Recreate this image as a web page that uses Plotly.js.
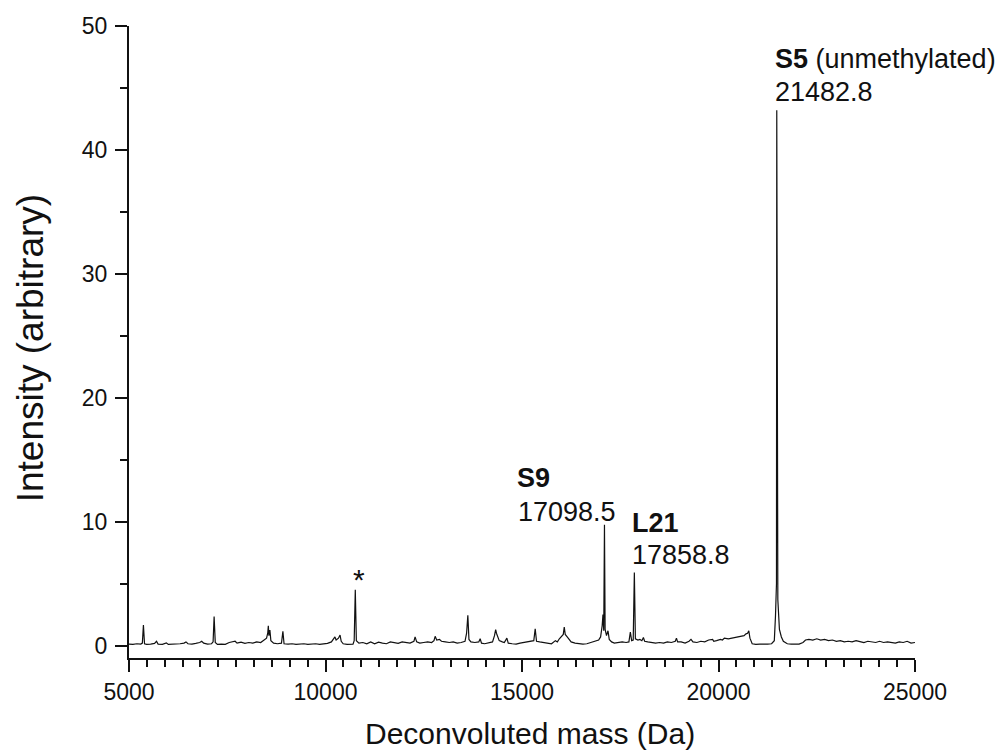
<!DOCTYPE html>
<html>
<head>
<meta charset="utf-8">
<script src="https://cdn.plot.ly/plotly-3.0.1.min.js"></script>
<style>html,body{margin:0;padding:0;background:#fff;}#chart{width:1003px;height:756px;}</style>
</head>
<body>
<div id="chart"></div>
<script>
// Deconvoluted mass (Da)
const mass = [
5000,5100,5200,5300,5340,5367,5395,5450,5550,5650,5700,5740,5850,5950,6000,6100,6200,6300,6400,6450,
6500,6600,6700,6800,6850,6900,7000,7100,7140,7166,7195,7250,7350,7450,7550,7650,7700,7750,7850,7950,
8050,8150,8250,8350,8420,8500,8530,8545,8560,8585,8610,8680,8780,8880,8916,8945,9050,9150,9250,9350,
9450,9550,9650,9750,9850,9950,10050,10150,10200,10240,10270,10330,10370,10400,10450,10550,10700,10730,10758,10785,
10850,10950,11050,11150,11250,11350,11450,11550,11650,11750,11850,11950,12050,12150,12250,12280,12320,12400,12500,12600,
12700,12760,12790,12830,12900,12950,13050,13150,13250,13350,13450,13550,13590,13622,13650,13700,13800,13900,13935,13970,
14050,14150,14250,14300,14330,14350,14380,14420,14500,14550,14615,14650,14750,14850,14950,15050,15150,15250,15300,15336,
15370,15450,15550,15650,15750,15850,15900,15950,16000,16050,16075,16100,16150,16200,16250,16350,16450,16550,16650,16750,
16850,16950,17000,17040,17060,17080,17098.5,17115,17150,17188,17220,17280,17350,17450,17550,17650,17720,17757,17790,17830,
17858.8,17885,17950,18000,18050,18089,18120,18200,18300,18400,18500,18600,18700,18800,18900,18930,18960,19050,19150,19250,
19300,19350,19450,19550,19650,19750,19850,19880,19950,20050,20100,20150,20250,20350,20450,20550,20650,20700,20740,20771,
20800,20857,20950,21050,21150,21250,21350,21420,21450,21475,21482.8,21492,21510,21550,21600,21650,21750,21850,21950,22050,
22150,22215,22300,22400,22500,22600,22700,22800,22900,23000,23100,23200,23300,23400,23500,23600,23700,23800,23900,24000,
24100,24200,24300,24400,24500,24600,24700,24800,24900,25000
];
// Intensity (arbitrary)
const intensity = [
0.12,0.10,0.15,0.12,0.2,1.65,0.15,0.1,0.12,0.18,0.35,0.12,0.1,0.22,0.1,0.12,0.08,0.15,0.2,0.3,
0.15,0.12,0.18,0.25,0.35,0.2,0.12,0.15,0.3,2.35,0.25,0.1,0.12,0.1,0.25,0.3,0.35,0.2,0.28,0.18,
0.25,0.2,0.3,0.25,0.45,0.6,1.0,1.6,0.8,1.25,0.4,0.2,0.15,0.2,1.15,0.15,0.12,0.15,0.1,0.12,
0.15,0.1,0.12,0.15,0.1,0.12,0.18,0.3,0.5,0.7,0.45,0.6,0.85,0.35,0.15,0.1,0.12,0.4,4.5,0.4,
0.2,0.25,0.15,0.3,0.15,0.28,0.2,0.15,0.3,0.25,0.18,0.3,0.25,0.2,0.35,0.7,0.3,0.2,0.25,0.3,
0.25,0.4,0.75,0.45,0.5,0.35,0.3,0.25,0.3,0.2,0.25,0.35,1.0,2.45,0.5,0.3,0.25,0.3,0.55,0.2,
0.15,0.2,0.3,0.8,1.3,1.0,0.7,0.4,0.3,0.25,0.6,0.2,0.15,0.12,0.2,0.25,0.3,0.35,0.4,1.35,
0.35,0.3,0.25,0.2,0.15,0.4,0.3,0.55,0.7,0.9,1.5,0.9,0.7,0.5,0.3,0.2,0.15,0.12,0.15,0.25,
0.3,0.45,0.7,1.6,2.5,1.2,9.75,1.3,0.8,1.2,0.5,0.3,0.2,0.25,0.3,0.25,0.3,1.1,0.4,0.45,
5.9,0.55,0.45,0.5,0.4,0.65,0.35,0.3,0.25,0.2,0.25,0.2,0.3,0.25,0.35,0.6,0.3,0.3,0.2,0.35,
0.5,0.3,0.25,0.35,0.3,0.45,0.5,0.35,0.4,0.5,0.45,0.6,0.55,0.6,0.7,0.75,0.8,0.95,1.0,1.2,
0.6,0.15,0.1,0.12,0.1,0.12,0.15,0.4,2.4,5.0,43.2,4.8,3.7,1.3,0.7,0.35,0.15,0.12,0.15,0.12,
0.25,0.45,0.5,0.45,0.55,0.45,0.5,0.4,0.45,0.35,0.4,0.3,0.35,0.3,0.4,0.3,0.25,0.35,0.3,0.25,
0.35,0.25,0.3,0.25,0.2,0.3,0.25,0.35,0.2,0.25
];
const xTickVals = [5000, 10000, 15000, 20000, 25000];
const yTickVals = [0, 10, 20, 30, 40, 50];
const xTitle = "Deconvoluted mass (Da)";
const yTitle = "Intensity (arbitrary)";
const labelText = ["<b>S5</b> (unmethylated)", "21482.8", "<b>S9</b>", "17098.5", "<b>L21</b>", "17858.8", "*"];
const labelMass = [21380, 21380, 14830, 14850, 17760, 17760, 10865];
const labelIntensity = [47.3, 44.7, 13.5, 10.8, 9.9, 7.3, 5.3];
const labelAnchor = ["left", "left", "left", "left", "left", "left", "center"];

const fontFam = "Liberation Sans, Arial, sans-serif";
const ink = "#111";
const trace = {
  x: mass, y: intensity, type: "scatter", mode: "lines",
  line: {color: ink, width: 1.2}, hoverinfo: "skip"
};
const annotations = labelText.map((t, i) => ({
  x: labelMass[i], y: labelIntensity[i], xref: "x", yref: "y",
  text: t, showarrow: false, xanchor: labelAnchor[i], yanchor: "middle",
  font: {family: fontFam, size: i === 6 ? 30 : 27, color: ink}
}));
annotations.push({
  x: 0.51, y: -0.119, xref: "paper", yref: "paper", text: xTitle, showarrow: false,
  xanchor: "center", yanchor: "middle", font: {family: fontFam, size: 30, color: ink}
});
annotations.push({
  x: -0.126, y: 0.49, xref: "paper", yref: "paper", text: yTitle, showarrow: false, textangle: -90,
  xanchor: "center", yanchor: "middle", font: {family: fontFam, size: 37, color: ink}
});
const layout = {
  width: 1003, height: 756,
  margin: {l: 129, r: 88, t: 26, b: 98},
  paper_bgcolor: "#fff", plot_bgcolor: "#fff",
  showlegend: false,
  font: {family: fontFam, color: ink},
  xaxis: {
    range: [5000, 25000], tickvals: xTickVals, ticktext: xTickVals.map(String),
    showgrid: false, zeroline: false, showline: true, linecolor: ink, linewidth: 2,
    ticks: "outside", ticklen: 12, tickwidth: 2, tickcolor: ink,
    tickfont: {family: fontFam, size: 23, color: ink},
    minor: {dtick: 5000/11, tick0: 5000, ticks: "outside", ticklen: 7, tickwidth: 2, tickcolor: ink, showgrid: false},
    automargin: false
  },
  yaxis: {
    range: [-1, 50], tickvals: yTickVals, ticktext: yTickVals.map(String),
    showgrid: false, zeroline: false, showline: true, linecolor: ink, linewidth: 2,
    ticks: "outside", ticklen: 12, tickwidth: 2, tickcolor: ink, ticklabelstandoff: 3,
    tickfont: {family: fontFam, size: 23, color: ink},
    minor: {dtick: 5, tick0: 0, ticks: "outside", ticklen: 7, tickwidth: 2, tickcolor: ink, showgrid: false},
    automargin: false
  },
  annotations: annotations
};
Plotly.newPlot("chart", [trace], layout, {staticPlot: true, displayModeBar: false});
</script>
</body>
</html>
